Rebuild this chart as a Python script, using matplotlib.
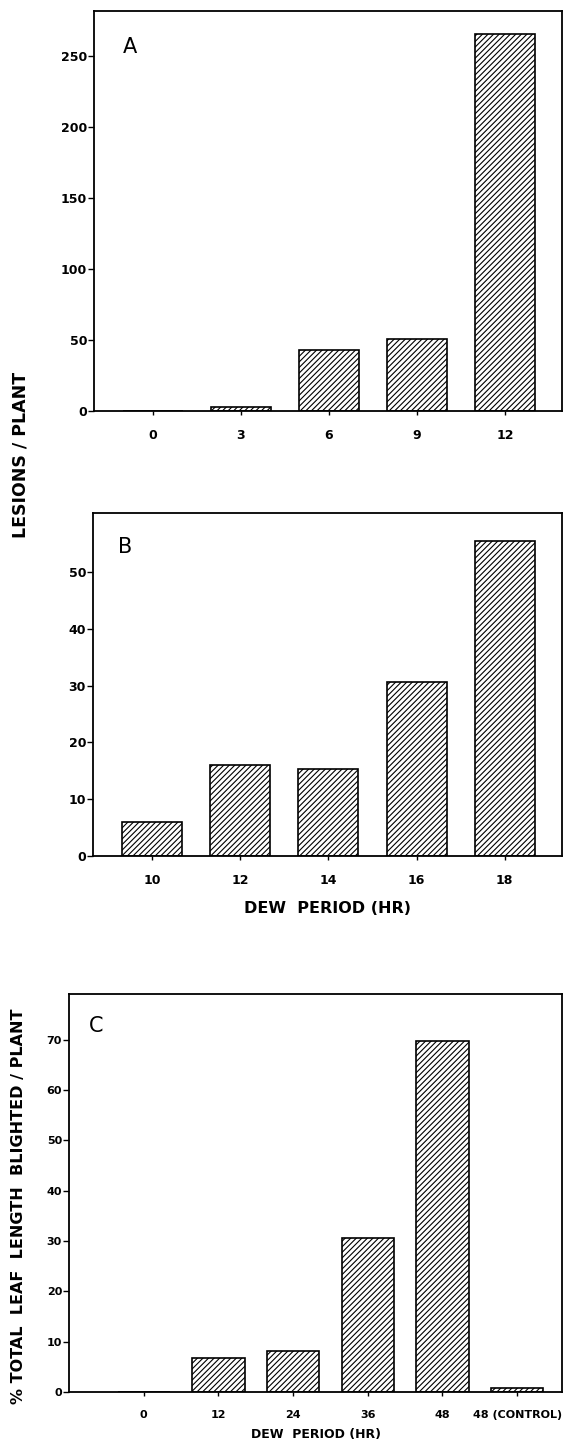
import matplotlib
matplotlib.use("Agg")
import matplotlib.pyplot as plt

# panel A: lesions per plant vs dew period
a_labels = ["0", "3", "6", "9", "12"]
a_values = [0, 2.5, 43, 51, 266]

# panel B
b_labels = ["10", "12", "14", "16", "18"]
b_values = [6, 16, 15.3, 30.7, 55.5]

# panel C: % leaf length blighted
c_labels = ["0", "12", "24", "36", "48", "48 (CONTROL)"]
c_values = [0, 6.7, 8.1, 30.6, 69.8, 0.8]

plt.rcParams["font.family"] = ["DejaVu Sans"]
plt.rcParams["hatch.linewidth"] = 0.8

fig = plt.figure(figsize=(5.64, 14.45), dpi=100)

ax_a = fig.add_axes([0.1667, 0.7156, 0.8298, 0.2768])
ax_b = fig.add_axes([0.1649, 0.4076, 0.8316, 0.2374])
ax_c = fig.add_axes([0.1223, 0.0367, 0.8742, 0.2754])


def draw_panel(ax, labels, values, width, xlim, ylim, yticks, letter, letter_pos, tick_fs):
    pos = list(range(len(labels)))
    ax.bar(pos, values, width=width, color="white", edgecolor="black",
           linewidth=1.2, hatch="//////")
    ax.set_xlim(*xlim)
    ax.set_ylim(*ylim)
    ax.set_xticks(pos)
    ax.set_xticklabels(labels)
    ax.set_yticks(yticks)
    ax.tick_params(axis="y", length=4, width=1, pad=1, labelsize=tick_fs)
    ax.tick_params(axis="x", length=3, width=1, pad=10, labelsize=tick_fs)
    for lbl in ax.get_xticklabels() + ax.get_yticklabels():
        lbl.set_fontweight("bold")
    for s in ax.spines.values():
        s.set_linewidth(1.3)
    ax.text(letter_pos[0], letter_pos[1], letter, transform=ax.transAxes,
            fontsize=15, ha="center", va="center")


draw_panel(ax_a, a_labels, a_values, 0.68, (-0.67, 4.65), (0, 282),
           [0, 50, 100, 150, 200, 250], "A", (0.077, 0.91), 9)
draw_panel(ax_b, b_labels, b_values, 0.68, (-0.67, 4.65), (0, 60.4),
           [0, 10, 20, 30, 40, 50], "B", (0.068, 0.90), 9)
draw_panel(ax_c, c_labels, c_values, 0.70, (-1.0, 5.6), (0, 79.1),
           [0, 10, 20, 30, 40, 50, 60, 70], "C", (0.055, 0.92), 8)

ax_b.set_xlabel("DEW  PERIOD (HR)", fontsize=11.5, fontweight="bold", labelpad=10)
ax_c.set_xlabel("DEW  PERIOD (HR)", fontsize=9, fontweight="bold", labelpad=6)

fig.text(0.036, 0.685, "LESIONS / PLANT", rotation=90, fontsize=12.5,
         fontweight="bold", ha="center", va="center")
fig.text(0.032, 0.165, "% TOTAL  LEAF  LENGTH  BLIGHTED / PLANT", rotation=90,
         fontsize=11.5, fontweight="bold", ha="center", va="center")

fig.savefig("out.png", dpi=100)
